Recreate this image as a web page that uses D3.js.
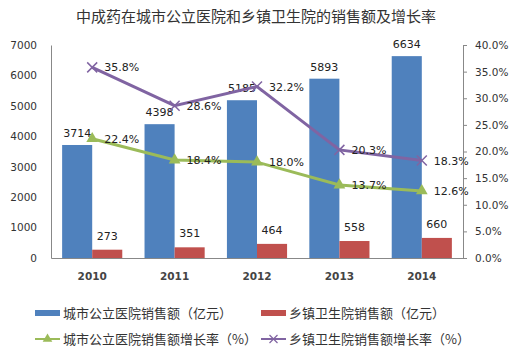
<!DOCTYPE html>
<html>
<head>
<meta charset="utf-8">
<script src="https://cdn.jsdelivr.net/npm/d3@7"></script>
<style>
  body { margin: 0; background: #fff; overflow: hidden; }
  svg { display: block; overflow: visible; }
  svg text { font-family: "DejaVu Sans", sans-serif; fill: #222; }
  .cjk { font-family: "Noto Sans CJK SC", sans-serif; }
  .axis path, .axis line { stroke: #888; }
</style>
</head>
<body>
<div id="chart"></div>
<script>
// Sales of Chinese patent medicine: city public hospitals vs township health centres
const years = ['2010', '2011', '2012', '2013', '2014'];
const citySales = [3714, 4398, 5185, 5893, 6634];
const townSales = [273, 351, 464, 558, 660];
const cityGrowth = [22.4, 18.4, 18.0, 13.7, 12.6];
const townGrowth = [35.8, 28.6, 32.2, 20.3, 18.3];
const leftTicks = [0, 1000, 2000, 3000, 4000, 5000, 6000, 7000];
const rightTicks = [0, 5, 10, 15, 20, 25, 30, 35, 40];
const seriesNames = ['城市公立医院销售额（亿元）', '乡镇卫生院销售额（亿元）',
                     '城市公立医院销售额增长率（%）', '乡镇卫生院销售额增长率（%）'];

const COLORS = { city: '#4f81bd', town: '#c0504d', cityLine: '#9bbb59', townLine: '#8064a2' };

const width = 529, height = 353;
const margin = { top: 45, right: 66, bottom: 95, left: 51 };
const innerWidth = width - margin.left - margin.right;
const innerHeight = height - margin.top - margin.bottom;

const svg = d3.select('#chart').append('svg')
    .attr('width', width)
    .attr('height', height);

// Title
svg.append('text')
    .attr('class', 'cjk')
    .attr('x', 256)
    .attr('y', 22)
    .attr('text-anchor', 'middle')
    .attr('font-size', '15px')
    .style('fill', '#333')
    .text('中成药在城市公立医院和乡镇卫生院的销售额及增长率');

const g = svg.append('g')
    .attr('transform', `translate(${margin.left},${margin.top})`);

// Scales
const x0 = d3.scaleBand().domain(years).range([0, innerWidth]).padding(0);
const x1 = d3.scaleBand().domain(['city', 'town'])
    .range([0, x0.bandwidth()]).paddingInner(0).paddingOuter(0.37);
const y = d3.scaleLinear().domain([0, 7000]).range([innerHeight, 0]);
const yR = d3.scaleLinear().domain([0, 40]).range([innerHeight, 0]);

// Bars
const groups = g.selectAll('.year')
    .data(years)
    .enter().append('g')
    .attr('transform', d => `translate(${x0(d)},0)`);

groups.append('rect')
    .attr('x', x1('city'))
    .attr('width', x1.bandwidth())
    .attr('y', (d, i) => y(citySales[i]))
    .attr('height', (d, i) => innerHeight - y(citySales[i]))
    .attr('fill', COLORS.city);

groups.append('rect')
    .attr('x', x1('town'))
    .attr('width', x1.bandwidth())
    .attr('y', (d, i) => y(townSales[i]))
    .attr('height', (d, i) => innerHeight - y(townSales[i]))
    .attr('fill', COLORS.town);

groups.append('text')
    .attr('x', x1('city') + x1.bandwidth() / 2)
    .attr('y', (d, i) => y(citySales[i]) - 8)
    .attr('text-anchor', 'middle')
    .attr('font-size', '11px')
    .text((d, i) => citySales[i]);

groups.append('text')
    .attr('x', x1('town') + x1.bandwidth() / 2)
    .attr('y', (d, i) => y(townSales[i]) - 10)
    .attr('text-anchor', 'middle')
    .attr('font-size', '11px')
    .text((d, i) => townSales[i]);

// Axes
const xAxis = g.append('g')
    .attr('class', 'axis')
    .attr('transform', `translate(0,${innerHeight})`)
    .call(d3.axisBottom(x0).tickSize(0).tickPadding(15));
xAxis.selectAll('text').attr('font-size', '10.5px').style('fill', '#444').style('font-weight', 'bold');

const yAxis = g.append('g')
    .attr('class', 'axis')
    .call(d3.axisLeft(y).tickValues(leftTicks).tickSize(0).tickPadding(14).tickFormat(d3.format('d')));
yAxis.selectAll('text').attr('font-size', '10.5px').style('fill', '#333');

const yAxisR = g.append('g')
    .attr('class', 'axis')
    .attr('transform', `translate(${innerWidth},0)`)
    .call(d3.axisRight(yR).tickValues(rightTicks).tickSize(4).tickSizeOuter(0).tickPadding(8)
        .tickFormat(d => d.toFixed(1) + '%'));
yAxisR.selectAll('text').attr('font-size', '10.5px').style('fill', '#333');

// Lines
const cx = d => x0(d) + x0.bandwidth() / 2;
const lineGen = vals => d3.line()
    .x((d, i) => cx(years[i]))
    .y(d => yR(d))(vals);

const triangle = d3.symbol().type(d3.symbolTriangle).size(60);

function drawSeries(vals, color, marker) {
    g.append('path')
        .attr('d', lineGen(vals))
        .attr('fill', 'none')
        .attr('stroke', color)
        .attr('stroke-width', 3);

    vals.forEach((v, i) => {
        const px = cx(years[i]), py = yR(v);
        if (marker === 'triangle') {
            g.append('path')
                .attr('d', triangle())
                .attr('transform', `translate(${px},${py})`)
                .attr('fill', color);
        } else {
            g.append('path')
                .attr('d', `M${px - 5},${py - 5}L${px + 5},${py + 5}M${px - 5},${py + 5}L${px + 5},${py - 5}`)
                .attr('stroke', color)
                .attr('stroke-width', 1.5);
        }
        g.append('text')
            .attr('x', px + 12)
            .attr('y', py + 4)
            .attr('font-size', '11px')
            .text(v.toFixed(1) + '%');
    });
}

drawSeries(cityGrowth, COLORS.cityLine, 'triangle');
drawSeries(townGrowth, COLORS.townLine, 'cross');

// Legend
const legend = svg.append('g');
const legendPos = [[35, 313], [261, 313], [35, 339], [261, 339]];

seriesNames.forEach((name, i) => {
    const [lx, ly] = legendPos[i];
    const row = legend.append('g').attr('transform', `translate(${lx},${ly})`);
    if (i < 2) {
        row.append('rect')
            .attr('x', 0).attr('y', -3)
            .attr('width', 25).attr('height', 6)
            .attr('fill', i === 0 ? COLORS.city : COLORS.town);
    } else {
        const color = i === 2 ? COLORS.cityLine : COLORS.townLine;
        row.append('line')
            .attr('x1', 0).attr('x2', 25)
            .attr('stroke', color).attr('stroke-width', 2);
        if (i === 2) {
            row.append('path')
                .attr('d', d3.symbol().type(d3.symbolTriangle).size(40)())
                .attr('transform', 'translate(12.5,0)')
                .attr('fill', color);
        } else {
            row.append('path')
                .attr('d', 'M8.5,-4L16.5,4M8.5,4L16.5,-4')
                .attr('stroke', color).attr('stroke-width', 1.2);
        }
    }
    row.append('text')
        .attr('class', 'cjk')
        .attr('x', 28)
        .attr('y', 5)
        .attr('font-size', '13px')
        .style('fill', '#333')
        .text(name);
});
</script>
</body>
</html>
